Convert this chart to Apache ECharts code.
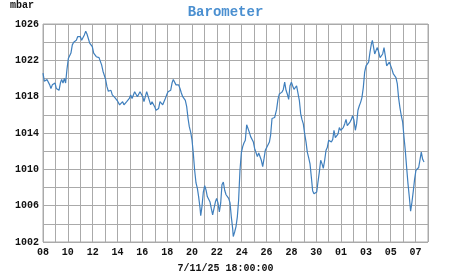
<!DOCTYPE html>
<html><head><meta charset="utf-8">
<script src="https://cdn.jsdelivr.net/npm/echarts@6/dist/echarts.min.js"></script>
<style>html,body{margin:0;padding:0;background:#fff}#c{width:451px;height:275px}</style>
</head><body><div id="c"></div>
<script>
// Days since 8 Oct 2025 00:00
const days = [0,0.11,0.21,0.32,0.43,0.54,0.64,0.75,0.86,0.97,1.07,1.18,1.29,1.40,1.50,1.61,1.72,1.82,1.93,2.04,2.15,2.25,2.36,2.47,2.58,2.68,2.79,2.90,3.01,3.11,3.22,3.33,3.44,3.54,3.65,3.76,3.86,3.97,4.08,4.19,4.29,4.40,4.51,4.61,4.72,4.83,4.94,5.04,5.15,5.26,5.37,5.47,5.58,5.69,5.79,5.90,6.01,
6.17,6.31,6.41,6.52,6.63,6.74,6.84,6.95,7.06,7.17,7.27,7.38,7.49,7.60,7.70,7.81,7.92,8.03,8.13,8.24,8.35,8.45,8.56,8.67,8.78,8.88,8.99,9.10,9.21,9.31,9.42,9.53,9.64,9.74,9.85,9.96,10.07,10.17,10.28,10.39,10.49,10.60,10.71,10.82,10.92,11.03,11.14,11.25,11.35,11.46,11.57,11.68,11.78,11.89,12.00,12.10,12.21,12.32,12.43,12.53,12.64,
12.70,12.80,12.91,13.02,13.13,13.23,13.34,13.45,13.55,13.66,13.77,13.88,13.98,14.09,14.20,14.31,14.41,14.52,14.63,14.74,14.84,14.95,15.06,15.16,15.27,15.32,15.43,15.54,15.65,15.75,15.86,15.97,16.08,16.18,16.29,16.40,16.51,16.61,16.72,16.83,16.94,17.04,17.15,17.26,17.37,17.48,17.58,17.69,17.80,17.90,18.01,18.12,18.23,18.33,18.44,18.55,18.65,18.71,18.81,18.92,19.03,19.14,19.24,19.35,19.46,19.57,19.67,19.78,19.89,20.00,20.10,20.21,20.32,20.42,20.53,20.64,20.75,20.85,20.96,21.07,21.18,21.28,21.39,21.50,21.61,21.71,21.82,21.93,22.04,22.14,22.25,22.36,22.47,22.57,22.68,22.79,22.89,23.00,23.11,23.22,23.33,23.43,23.54,23.65,23.76,23.86,23.97,24.08,24.18,24.29,24.40,24.50,24.61,24.72,24.83,24.93,25.04,25.15,25.25,25.36,25.47,25.58,25.68,25.79,25.90,26.01,26.11,26.22,26.33,26.44,26.52,26.60,26.71,26.82,26.92,27.03,27.14,27.24,27.35,27.46,27.56,27.67,27.78,27.89,27.99,28.10,28.21,28.31,28.42,28.53,28.63,28.74,28.85,28.96,29.07,29.17,29.28,29.39,29.50,29.60,29.71,29.82,29.92,30.03,30.14,30.25,30.36,30.46,30.57,30.68];
const pressure = [1020.6,1019.7,1019.5,1019.9,1019.7,1019.3,1018.9,1019.3,1019.1,1019.5,1018.9,1018.7,1018.7,1019.5,1019.9,1019.5,1020.0,1019.5,1021.0,1022.2,1022.4,1022.8,1023.7,1024.0,1023.9,1024.2,1024.6,1024.8,1024.6,1024.2,1024.2,1024.8,1025.2,1024.9,1024.4,1023.9,1023.9,1023.5,1022.8,1022.6,1022.4,1022.6,1022.3,1022.2,1021.5,1020.8,1020.6,1019.9,1019.1,1018.6,1018.8,1018.7,1018.2,1018.0,1017.9,1017.9,1017.5,
1017.1,1016.9,1017.45,1017.1,1016.9,1017.45,1017.3,1017.8,1018.2,1017.8,1018.0,1018.55,1018.7,1018.0,1018.2,1018.55,1018.7,1018.0,1017.45,1018.0,1018.55,1018.4,1017.6,1017.1,1017.45,1017.3,1016.9,1016.5,1016.35,1016.7,1017.45,1017.6,1017.1,1017.45,1017.8,1018.2,1018.55,1018.4,1018.7,1019.5,1019.9,1019.8,1019.3,1019.1,1019.3,1018.9,1018.4,1018.0,1017.8,1017.6,1016.9,1015.6,1014.7,1014.1,1013.2,1011.8,1009.9,1008.5,1007.9,1007.0,1005.8,
1004.9,1005.9,1007.5,1008.2,1007.7,1007.0,1006.8,1006.4,1005.7,1005.0,1005.7,1006.4,1006.8,1006.3,1005.3,1006.3,1008.3,1008.6,1007.7,1007.2,1007.0,1006.8,1006.3,1004.8,1003.5,1002.6,1003.1,1003.7,1004.8,1006.6,1009.9,1011.8,1012.5,1012.9,1013.2,1014.9,1015.1,1014.1,1013.6,1013.7,1013.0,1012.3,1012.1,1011.4,1011.8,1011.6,1011.0,1010.3,1011.2,1012.1,1012.4,1012.4,1013.0,1013.8,1015.6,1015.8,1015.7,1015.5,1016.6,1017.7,1018.3,1018.5,1018.5,1018.8,1019.6,1018.7,1018.3,1017.7,1019.2,1019.6,1019.2,1018.8,1019.0,1019.2,1019.4,1017.6,1016.1,1015.5,1015.0,1013.9,1013.0,1011.9,1011.3,1010.6,1009.1,1007.65,1007.3,1007.5,1007.5,1008.6,1009.7,1011.0,1010.6,1010.1,1011.0,1012.1,1012.4,1013.2,1013.2,1013.0,1013.3,1014.3,1013.5,1013.3,1013.9,1014.6,1014.3,1014.1,1014.6,1015.0,1015.5,1014.8,1014.6,1015.2,1015.5,1015.9,1015.4,1014.3,1015.0,1016.5,1017.0,1017.4,1017.9,1019.0,1020.7,1021.4,1021.6,1021.8,1022.9,1023.8,1024.2,1023.6,1022.7,1023.1,1023.4,1022.9,1022.3,1022.5,1022.7,1023.4,1022.5,1021.4,1021.6,1021.8,1021.9,1021.0,1020.5,1020.3,1020.1,1019.4,1017.9,1016.8,1015.9,1015.2,1013.5,1012.1,1010.2,1008.4,1006.9,1005.4,1006.4,1007.65,1008.9,1009.9,1009.9,1010.2,1011.1,1011.9,1011.1,1010.8];
const startYear = 2025, startMonth = 9, startDay = 8; // 8 Oct 2025
const titleText = 'Barometer';
const unitText = 'mbar';
const footerText = '7/11/25 18:00:00';

const chart = echarts.init(document.getElementById('c'), null, {renderer:'canvas'});
const font = '"Liberation Mono", "DejaVu Sans Mono", monospace';
const gridColor = '#aaaaaa';
chart.setOption({
  animation: false,
  backgroundColor: '#fff',
  title: {
    text: titleText, left: 'center', top: 0,
    textStyle: {fontFamily: font, fontSize: 14, fontWeight: 'bold', color: '#4a8fd0'}
  },
  graphic: [
    {type:'text', left: 10, top: 0, style:{text: unitText, font: 'bold 10px ' + font, fill:'#111'}},
    {type:'text', left: 'center', top: 263, style:{text: footerText, font: 'bold 10px ' + font, fill:'#111'}}
  ],
  grid: {left: 43, right: 23, top: 24, bottom: 33, show: true, borderColor: gridColor, borderWidth: 1},
  xAxis: {
    type: 'value', min: 0, max: 31, interval: 1,
    axisLine: {show: false}, axisTick: {show: false},
    splitLine: {show: true, lineStyle: {color: gridColor, width: 1}},
    axisLabel: {
      margin: 5, color: '#111', fontFamily: font, fontSize: 10, fontWeight: 'bold',
      formatter: function (v) {
        if (v % 2 !== 0 || v > 30) return '';
        const dt = new Date(Date.UTC(startYear, startMonth, startDay + v));
        const d = dt.getUTCDate();
        return (d < 10 ? '0' : '') + d;
      }
    }
  },
  yAxis: {
    type: 'value', min: 1002, max: 1026, interval: 2,
    axisLine: {show: false}, axisTick: {show: false},
    splitLine: {show: true, lineStyle: {color: gridColor, width: 1}},
    axisLabel: {
      margin: 4, color: '#111', fontFamily: font, fontSize: 10, fontWeight: 'bold',
      formatter: function (v) { return ((v - 1002) % 4 === 0) ? String(v) : ''; }
    }
  },
  series: [{
    type: 'line', showSymbol: false, symbol: 'none',
    data: days.map((d, i) => [d, pressure[i]]),
    lineStyle: {color: '#3f7fbd', width: 1.2}
  }]
});
</script></body></html>
